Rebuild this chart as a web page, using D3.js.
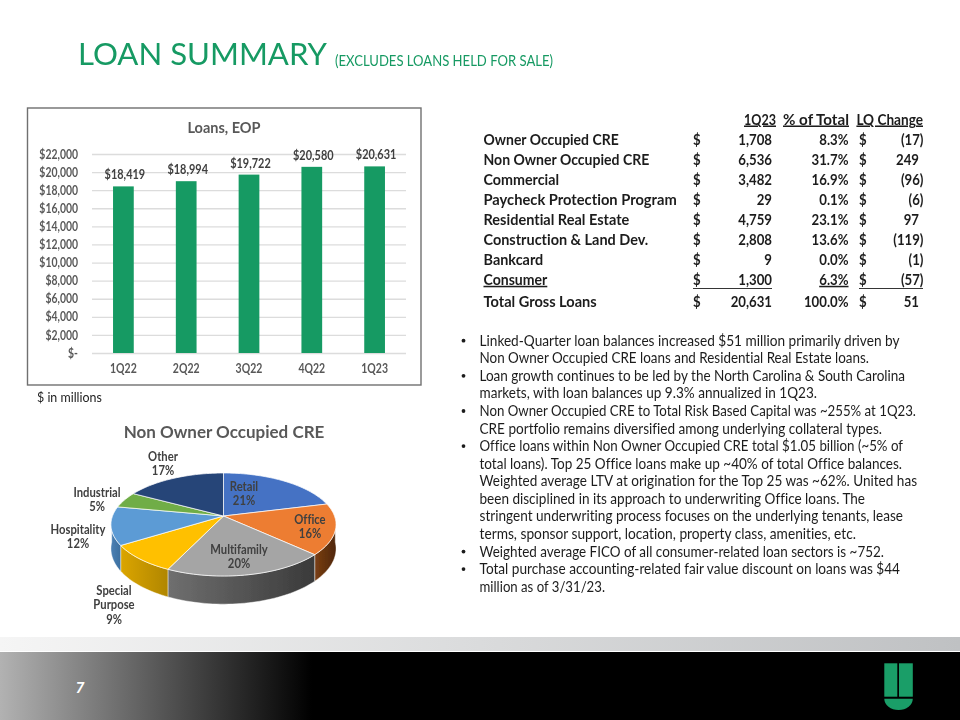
<!DOCTYPE html>
<html><head><meta charset="utf-8">
<script src="https://cdn.jsdelivr.net/npm/d3@7"></script>
<style>html,body{margin:0;padding:0;background:#fff}svg{display:block}text{font-family:Lato,"Open Sans",sans-serif;font-variant-ligatures:none}</style>
</head><body><svg id="c" width="960" height="720"></svg>
<script>
// ---- data ----
const quarters = ["1Q22","2Q22","3Q22","4Q22","1Q23"];
const loans = [18419,18994,19722,20580,20631];
const yTicks = [0,2000,4000,6000,8000,10000,12000,14000,16000,18000,20000,22000];
const cre = ["Retail","Office","Multifamily","Special Purpose","Hospitality","Industrial","Other"];
const crePct = [21,16,20,9,12,5,17];
const rowLabels = ["Owner Occupied CRE","Non Owner Occupied CRE","Commercial","Paycheck Protection Program","Residential Real Estate","Construction & Land Dev.","Bankcard","Consumer","Total Gross Loans"];
const rowValues = [1708,6536,3482,29,4759,2808,9,1300,20631];
const rowShare = [8.3,31.7,16.9,0.1,23.1,13.6,0.0,6.3,100.0];
const rowChange = [-17,249,-96,-6,97,-119,-1,-57,51];
const tableHeads = ["1Q23","% of Total","LQ Change"];
const bullets = [
 ["Linked-Quarter loan balances increased $51 million primarily driven by","Non Owner Occupied CRE loans and Residential Real Estate loans."],
 ["Loan growth continues to be led by the North Carolina & South Carolina","markets, with loan balances up 9.3% annualized in 1Q23."],
 ["Non Owner Occupied CRE to Total Risk Based Capital was ~255% at 1Q23.","CRE portfolio remains diversified among underlying collateral types."],
 ["Office loans within Non Owner Occupied CRE total $1.05 billion (~5% of","total loans). Top 25 Office loans make up ~40% of total Office balances.","Weighted average LTV at origination for the Top 25 was ~62%. United has","been disciplined in its approach to underwriting Office loans. The","stringent underwriting process focuses on the underlying tenants, lease","terms, sponsor support, location, property class, amenities, etc."],
 ["Weighted average FICO of all consumer-related loan sectors is ~752."],
 ["Total purchase accounting-related fair value discount on loans was $44","million as of 3/31/23."]
];
// ---- style / layout ----
const GREEN="#179a63", GREY="#595959", DARK="#404040", INK="#1c1c1c";
const sliceCol=["#4472c4","#ed7d31","#a5a5a5","#ffc000","#5b9bd5","#70ad47","#264478"];
const wallCol=[["#2f5597","#2f5597"],["#7a3f14","#4f2608"],["#6f6f6f","#3a3a3a"],["#dba500","#b08600"],["#4a80b4","#3d6f9f"],["#4f7a32","#4f7a32"],["#1b3157","#1b3157"]];
const lineEnds=[899.5,869,905,817,916,882,903,902,917,865,903,856,884,900,605];
const labelEnds=[618.7,649.3,559,676.7,629.3,648.3,543.3,547.3,596.7];
// Narrow glyphs to Calibri-like proportions while keeping real text
const squeeze=(sel,f)=>sel.each(function(){d3.select(this).attr("textLength",this.getComputedTextLength()*f).attr("lengthAdjust","spacingAndGlyphs");});

const svg=d3.select("#c");
const defs=svg.append("defs");
const soft=defs.append("filter").attr("id","soft").attr("x","-5%").attr("y","-5%").attr("width","110%").attr("height","110%");
soft.append("feGaussianBlur").attr("stdDeviation",0.35);
const bg=defs.append("linearGradient").attr("id","band");
bg.append("stop").attr("offset",0).attr("stop-color","#f5f5f5");
bg.append("stop").attr("offset",1).attr("stop-color","#bfc1c3");
const fg=defs.append("linearGradient").attr("id","foot");
fg.append("stop").attr("offset",0).attr("stop-color","#b2b2b2");
fg.append("stop").attr("offset",1).attr("stop-color","#000");
wallCol.forEach((c,i)=>{const g=defs.append("linearGradient").attr("id","wall"+i);
 g.append("stop").attr("offset",0).attr("stop-color",c[0]);g.append("stop").attr("offset",1).attr("stop-color",c[1]);});

const root=svg.append("g").attr("filter","url(#soft)");

// title
root.append("text").attr("x",78).attr("y",65).attr("font-size",30).attr("fill",GREEN).attr("textLength",249).attr("lengthAdjust","spacingAndGlyphs").text("LOAN SUMMARY");
root.append("text").attr("x",335).attr("y",66).attr("font-size",15.5).attr("fill",GREEN).attr("textLength",218).attr("lengthAdjust","spacingAndGlyphs").text("(EXCLUDES LOANS HELD FOR SALE)");

// bar chart
root.append("rect").attr("x",27.5).attr("y",108).attr("width",393.5).attr("height",277).attr("fill","#fff").attr("stroke","#6f6f6f").attr("stroke-width",1.4);
root.append("text").attr("x",224).attr("y",133).attr("text-anchor","middle").attr("font-size",14.5).attr("font-weight",700).attr("fill",GREY).text("Loans, EOP");
const x=d3.scaleBand().domain(quarters).range([92,406]).paddingInner(0.67).paddingOuter(0.335);
const y=d3.scaleLinear().domain([0,22000]).range([353,154]);
const yAxis=d3.axisLeft(y).tickValues(yTicks).tickSize(-314).tickPadding(14).tickFormat(v=>v===0?"$-":"$"+d3.format(",")(v));
const ga=root.append("g").attr("transform","translate(92,0)").call(yAxis);
ga.select(".domain").remove();
ga.selectAll(".tick line").attr("stroke","#dcdcdc").attr("stroke-width",1.3);
ga.selectAll(".tick text").attr("font-size",13).attr("font-weight",700).attr("fill",GREY).call(squeeze,0.8);
const xa=root.append("g").attr("transform","translate(0,353)").call(d3.axisBottom(x).tickSize(0).tickPadding(11));
xa.select(".domain").remove();
xa.selectAll(".tick text").attr("font-size",12.5).attr("font-weight",700).attr("fill",GREY).call(squeeze,0.84);
root.selectAll(".bar").data(loans).join("rect").attr("class","bar")
 .attr("x",(d,i)=>x(quarters[i])).attr("width",x.bandwidth()).attr("y",d=>y(d)).attr("height",d=>353-y(d)).attr("fill",GREEN);
root.selectAll(".blab").data(loans).join("text").attr("class","blab")
 .attr("x",(d,i)=>x(quarters[i])+x.bandwidth()/2+1.5).attr("y",d=>y(d)-7).attr("text-anchor","middle")
 .attr("font-size",13).attr("font-weight",700).attr("fill",DARK).text(d=>"$"+d3.format(",")(d)).call(squeeze,0.84);
root.append("text").attr("x",37).attr("y",402).attr("font-size",13.5).attr("fill","#222").text("$ in millions").call(squeeze,0.92);

// 3D pie
root.append("text").attr("x",224).attr("y",438).attr("text-anchor","middle").attr("font-size",17).attr("font-weight",700).attr("fill",GREY).text("Non Owner Occupied CRE");
const cx=223.5,cy=516,R=111,r=50.1,k=0.165,depth=23.5;
const proj=(a,rho,lift)=>{const X=Math.sin(a)*rho,Y=-Math.cos(a)*rho,s=1/(1-k*Y);return [cx+R*X*s,cy+r*Y*s+lift*s];};
const arcs=d3.pie().sort(null).value(d=>d)(crePct);
const line=d3.line();
const samples=(a0,a1)=>{const n=Math.max(2,Math.ceil((a1-a0)/0.03));return d3.range(n+1).map(i=>a0+(a1-a0)*i/n);};
const visA=1.62,visB=2*Math.PI-1.62;
const wg=root.append("g");
arcs.forEach((d,i)=>{
 const a0=Math.max(d.startAngle,visA),a1=Math.min(d.endAngle,visB);
 if(a1<=a0)return;
 const ts=samples(a0,a1);
 const pts=ts.map(a=>proj(a,1,0)).concat(ts.slice().reverse().map(a=>proj(a,1,depth)));
 wg.append("path").attr("d",line(pts)+"Z").attr("fill",`url(#wall${i})`).attr("stroke","#fff").attr("stroke-opacity",.55).attr("stroke-width",.8);
});
const tg=root.append("g");
arcs.forEach((d,i)=>{
 const pts=[proj(0,0,0)].concat(samples(d.startAngle,d.endAngle).map(a=>proj(a,1,0)));
 tg.append("path").attr("d",line(pts)+"Z").attr("fill",sliceCol[i]).attr("stroke","#fff").attr("stroke-opacity",.8).attr("stroke-width",.9).attr("stroke-linejoin","round");
});
const pieLabelPos=[[244,491],[310,524],[239,554],[114,595],[78,534],[97,497],[163,461]];
cre.forEach((name,i)=>{
 const parts=name.split(" ").concat(crePct[i]+"%");
 parts.forEach((t,j)=>root.append("text").attr("x",pieLabelPos[i][0]).attr("y",pieLabelPos[i][1]+j*14.4).attr("text-anchor","middle").attr("font-size",12.5).attr("font-weight",700).attr("fill",DARK).text(t).call(squeeze,0.9));
});

// table
const T=root.append("g").attr("font-size",15).attr("font-weight",700).attr("fill",INK);
const rowY=i=>i<8?144.8+i*20:307;
const heads=[[776,tableHeads[0],32],[849,tableHeads[1],66],[923,tableHeads[2],66.6]];
heads.forEach(h=>T.append("text").attr("x",h[0]-h[2]).attr("y",124.5).attr("textLength",h[2]).attr("lengthAdjust","spacingAndGlyphs").attr("text-decoration","underline").text(h[1]));
const fmtCh=v=>v<0?"("+d3.format(",")(-v)+")":d3.format(",")(v);
rowLabels.forEach((l,i)=>{
 const yy=rowY(i);
 T.append("text").attr("x",483.5).attr("y",yy).attr("textLength",labelEnds[i]-483.5).attr("lengthAdjust","spacingAndGlyphs").attr("text-decoration",i===7?"underline":null).text(l);
 T.append("text").attr("x",693).attr("y",yy).text("$").call(squeeze,.88);
 T.append("text").attr("x",772).attr("y",yy).attr("text-anchor","end").text(d3.format(",")(rowValues[i])).call(squeeze,.88);
 T.append("text").attr("x",848.5).attr("y",yy).attr("text-anchor","end").attr("text-decoration",i===7?"underline":null).text(rowShare[i].toFixed(1)+"%").call(squeeze,.88);
 T.append("text").attr("x",859).attr("y",yy).text("$").call(squeeze,.88);
 T.append("text").attr("x",rowChange[i]<0?923.5:919).attr("y",yy).attr("text-anchor","end").text(fmtCh(rowChange[i])).call(squeeze,.88);
});
[[693,772],[859,923]].forEach(s=>T.append("line").attr("x1",s[0]).attr("x2",s[1]).attr("y1",288.5).attr("y2",288.5).attr("stroke",INK).attr("stroke-width",.9));

// bullets
const B=root.append("g").attr("font-size",15).attr("fill",INK);
let ln=0;
bullets.forEach(b=>{
 B.append("circle").attr("cx",463.5).attr("cy",345.7+ln*17.57-5).attr("r",1.9).attr("fill",INK);
 b.forEach(t=>{
  B.append("text").attr("x",479.5).attr("y",345.7+ln*17.57).attr("textLength",lineEnds[ln]-479.5).attr("lengthAdjust","spacingAndGlyphs").text(t);
  ln++;
 });
});

// footer
svg.append("rect").attr("x",0).attr("y",637).attr("width",960).attr("height",14).attr("fill","url(#band)");
svg.append("rect").attr("x",0).attr("y",652).attr("width",960).attr("height",68).attr("fill","#000");
svg.append("rect").attr("x",0).attr("y",652).attr("width",312).attr("height",68).attr("fill","url(#foot)");
svg.append("text").attr("x",80).attr("y",693).attr("text-anchor","middle").attr("font-size",15.5).attr("font-weight",700).attr("font-style","italic").attr("fill","#fff").text("7");
const logo=svg.append("g").attr("fill","#1a9e68");
logo.append("rect").attr("x",884.3).attr("y",663.3).attr("width",13).attr("height",33.4);
logo.append("rect").attr("x",899).attr("y",663.3).attr("width",13.8).attr("height",33.4);
logo.append("path").attr("d","M884.3,698.7H912.8A14.25,11.3 0 0 1 884.3,698.7Z");
</script></body></html>
